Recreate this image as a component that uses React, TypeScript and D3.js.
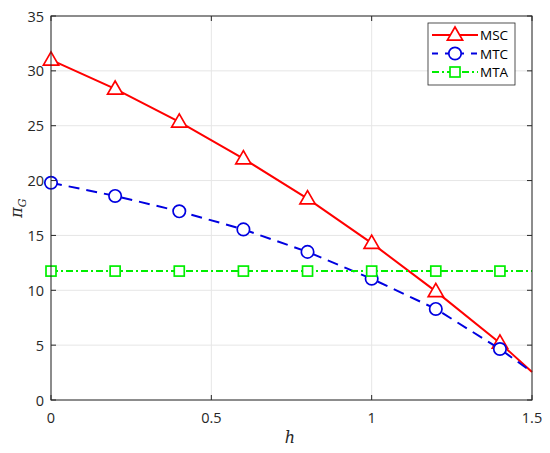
import React from "react";
import * as d3 from "d3";

const hValues = [0, 0.2, 0.4, 0.6, 0.8, 1.0, 1.2, 1.4, 1.5];
const mscValues = [31.0, 28.35, 25.35, 22.0, 18.35, 14.3, 9.9, 5.2, 2.55];
const mtcValues = [19.8, 18.6, 17.2, 15.55, 13.5, 11.05, 8.3, 4.65, 2.55];
const mtaValues = [11.75, 11.75, 11.75, 11.75, 11.75, 11.75, 11.75, 11.75, 11.75];
const xTicks = [0, 0.5, 1, 1.5];
const xTickLabels = ["0", "0.5", "1", "1.5"];
const yTicks = [0, 5, 10, 15, 20, 25, 30, 35];
const seriesNames = ["MSC", "MTC", "MTA"];

const W = 550, H = 453;
const L = 51, R = 532, T = 16, B = 400;

export default function App() {
  const x = d3.scaleLinear().domain([0, 1.5]).range([L, R]);
  const y = d3.scaleLinear().domain([0, 35]).range([B, T]);
  const line = d3.line<number>().x((_, i) => x(hValues[i])).y((v) => y(v));
  const markerIdx = hValues.map((_, i) => i).filter((i) => hValues[i] <= 1.4 + 1e-9);
  const font = "'Open Sans', 'Noto Sans', sans-serif";
  const axisColor = "#262626";

  const tri = (cx: number, cy: number, s: number) =>
    `M${cx},${cy - s}L${cx + s * 0.95},${cy + s * 0.65}L${cx - s * 0.95},${cy + s * 0.65}Z`;

  const series = [
    { name: seriesNames[0], vals: mscValues, color: "#ff0000", dash: "", marker: "tri" },
    { name: seriesNames[1], vals: mtcValues, color: "#0000e0", dash: "11,7", marker: "circle" },
    { name: seriesNames[2], vals: mtaValues, color: "#00ee00", dash: "7,3,2,3", marker: "square" },
  ];

  const drawMarker = (m: string, cx: number, cy: number, color: string, key: string) => {
    if (m === "tri") return <path key={key} d={tri(cx, cy, 8)} fill="white" stroke={color} strokeWidth={1.7} />;
    if (m === "circle") return <circle key={key} cx={cx} cy={cy} r={6.2} fill="white" stroke={color} strokeWidth={1.7} />;
    return <rect key={key} x={cx - 5} y={cy - 5} width={10} height={10} fill="white" stroke={color} strokeWidth={1.7} />;
  };

  const legX = 428, legY = 23, legW = 87, legH = 62;

  return (
    <svg width={W} height={H} style={{ position: "absolute", left: 0, top: 0 }}>
      <rect x={0} y={0} width={W} height={H} fill="white" />
      {xTicks.map((t) => (
        <line key={"gx" + t} x1={x(t)} x2={x(t)} y1={T} y2={B} stroke="#e6e6e6" strokeWidth={1} />
      ))}
      {yTicks.map((t) => (
        <line key={"gy" + t} x1={L} x2={R} y1={y(t)} y2={y(t)} stroke="#e6e6e6" strokeWidth={1} />
      ))}
      {series.map((s) => (
        <g key={s.name}>
          <path d={line(s.vals) || ""} fill="none" stroke={s.color} strokeWidth={2} strokeDasharray={s.dash} />
          {markerIdx.map((i) => drawMarker(s.marker, x(hValues[i]), y(s.vals[i]), s.color, s.name + i))}
        </g>
      ))}
      <rect x={L} y={T} width={R - L} height={B - T} fill="none" stroke={axisColor} strokeWidth={1} />
      {xTicks.map((t) => (
        <g key={"tx" + t}>
          <line x1={x(t)} x2={x(t)} y1={B} y2={B - 5} stroke={axisColor} />
          <line x1={x(t)} x2={x(t)} y1={T} y2={T + 5} stroke={axisColor} />
        </g>
      ))}
      {yTicks.map((t) => (
        <g key={"ty" + t}>
          <line x1={L} x2={L + 5} y1={y(t)} y2={y(t)} stroke={axisColor} />
          <line x1={R} x2={R - 5} y1={y(t)} y2={y(t)} stroke={axisColor} />
        </g>
      ))}
      {xTicks.map((t, i) => (
        <text key={"lx" + t} x={x(t)} y={B + 23} textAnchor="middle" fontFamily={font} fontSize={14.5} fill={axisColor}>
          {xTickLabels[i]}
        </text>
      ))}
      {yTicks.map((t) => (
        <text key={"ly" + t} x={L - 7} y={y(t) + 5.5} textAnchor="end" fontFamily={font} fontSize={14.5} fill={axisColor}>
          {t}
        </text>
      ))}
      <text x={290} y={443} textAnchor="middle" fontFamily="'DejaVu Serif', serif" fontStyle="italic" fontSize={16} fill={axisColor}>
        h
      </text>
      <text transform="translate(22,208) rotate(-90)" textAnchor="middle" fontFamily="'DejaVu Serif', serif" fontStyle="italic" fontSize={16} fill={axisColor}>
        π<tspan fontSize={11} dy={4}>G</tspan>
      </text>
      <rect x={legX} y={legY} width={legW} height={legH} fill="white" stroke={axisColor} strokeWidth={0.8} />
      {series.map((s, i) => {
        const ly = legY + 12 + i * 18.5;
        const cx = legX + 27;
        return (
          <g key={"leg" + s.name}>
            <line x1={legX + 4} x2={legX + 50} y1={ly} y2={ly} stroke={s.color} strokeWidth={2} strokeDasharray={s.name === "MTC" ? "6,7" : s.dash} />
            {drawMarker(s.marker, cx, ly, s.color, "lm" + i)}
            <text x={legX + 52} y={ly + 5} fontFamily={font} fontSize={13.5} fill="#000">
              {s.name}
            </text>
          </g>
        );
      })}
    </svg>
  );
}
